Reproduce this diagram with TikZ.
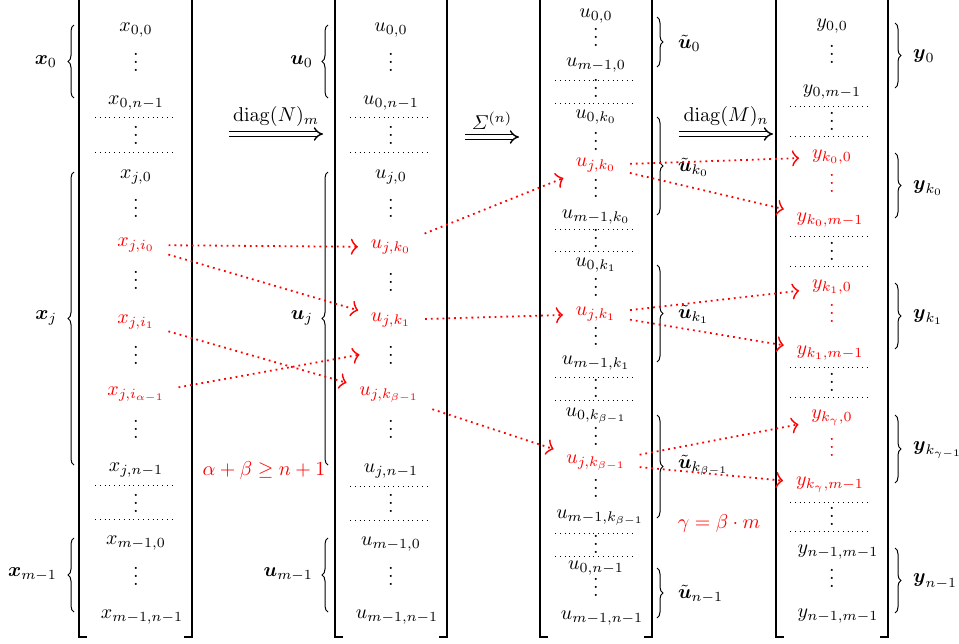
\documentclass[tikz,border=0pt]{standalone}
\usepackage{amsmath}
\usetikzlibrary{arrows.meta,decorations.pathreplacing}

\begin{document}
\begin{tikzpicture}[x=0.5pt,y=-0.5pt,
  vd/.style={yshift=3pt},
  sepline/.style={dotted,line width=0.4pt},
  bracket/.style={line width=1pt},
  brc/.style={decorate,decoration={brace,amplitude=3pt},line width=0.5pt},
  dblarr/.style={double,double distance=1.6pt,line width=0.7pt,-{Implies}},
  redarr/.style={red,dotted,line width=0.9pt,-{Classical TikZ Rightarrow[length=3.5pt,width=8pt]},shorten <=3.5pt,shorten >=3pt}]
\useasboundingbox (0,0) rectangle (959,643);
\clip (0,0) rectangle (959,643);

% brackets
\draw[bracket] (87,-10) -- (79,-10) -- (79,637) -- (87,637);
\draw[bracket] (184,-10) -- (192,-10) -- (192,637) -- (184,637);
\draw[bracket] (343,-10) -- (335,-10) -- (335,637) -- (343,637);
\draw[bracket] (439,-10) -- (447,-10) -- (447,637) -- (439,637);
\draw[bracket] (548,-10) -- (540,-10) -- (540,637) -- (548,637);
\draw[bracket] (644,-10) -- (652,-10) -- (652,637) -- (644,637);
\draw[bracket] (784,-10) -- (776,-10) -- (776,637) -- (784,637);
\draw[bracket] (880,-10) -- (888,-10) -- (888,637) -- (880,637);

% column x
\node(x00)  at (136,30)            {$x_{0,0}$};
\node(xd1)  at (136,62)[vd]        {$\vdots$};
\node(x0n)  at (136,103)           {$x_{0,n-1}$};
\node(xd2)  at (136,135)[vd]       {$\vdots$};
\node(xj0)  at (136,177)           {$x_{j,0}$};
\node(xd3)  at (136,208)[vd]       {$\vdots$};
\node(xji0) at (136,245)[red]      {$x_{j,i_0}$};
\node(xd4)  at (136,280)[vd]       {$\vdots$};
\node(xji1) at (136,322)[red]      {$x_{j,i_1}$};
\node(xd5)  at (136,355)[vd]       {$\vdots$};
\node(xjia) at (136,395)[red]      {$x_{j,i_{\alpha-1}}$};
\node(xd6)  at (136,429)[vd]       {$\vdots$};
\node(xjn)  at (136,470)           {$x_{j,n-1}$};
\node(xd7)  at (136,503)[vd]       {$\vdots$};
\node(xm0)  at (136,543)           {$x_{m-1,0}$};
\node(xd8)  at (136,576)[vd]       {$\vdots$};
\node(xmn)  at (142,617)           {$x_{m-1,n-1}$};
\draw[sepline] (95,117) -- (174,117);
\draw[sepline] (95,152) -- (174,152);
\draw[sepline] (95,485) -- (174,485);
\draw[sepline] (95,519) -- (174,519);

% column u
\node(u00)  at (391,30)            {$u_{0,0}$};
\node(ud1)  at (391,62)[vd]        {$\vdots$};
\node(u0n)  at (391,103)           {$u_{0,n-1}$};
\node(ud2)  at (391,135)[vd]       {$\vdots$};
\node(uj0)  at (391,177)           {$u_{j,0}$};
\node(ud3)  at (391,208)[vd]       {$\vdots$};
\node(ujk0) at (391,247)[red]      {$u_{j,k_0}$};
\node(ud4)  at (391,282)[vd]       {$\vdots$};
\node(ujk1) at (391,320)[red]      {$u_{j,k_1}$};
\node(ud5)  at (391,355)[vd]       {$\vdots$};
\node(ujkb) at (389,395)[red]      {$u_{j,k_{\beta-1}}$};
\node(ud6)  at (391,429)[vd]       {$\vdots$};
\node(ujn)  at (391,471)           {$u_{j,n-1}$};
\node(ud7)  at (391,503)[vd]       {$\vdots$};
\node(um0)  at (391,544)           {$u_{m-1,0}$};
\node(ud8)  at (391,576)[vd]       {$\vdots$};
\node(umn)  at (397,617)           {$u_{m-1,n-1}$};
\draw[sepline] (350,117) -- (429,117);
\draw[sepline] (350,152) -- (429,152);
\draw[sepline] (350,486) -- (429,486);
\draw[sepline] (350,520) -- (429,520);

% column u tilde
\node(v00)  at (596,16)            {$u_{0,0}$};
\node(vd1)  at (596,37)[vd]        {$\vdots$};
\node(vm0)  at (596,65)            {$u_{m-1,0}$};
\node(vd2)  at (596,88)[vd]        {$\vdots$};
\node(v0k0) at (596,117)           {$u_{0,k_0}$};
\node(vd3)  at (596,141)[vd]       {$\vdots$};
\node(vjk0) at (596,165)[red]      {$u_{j,k_0}$};
\node(vd4)  at (596,188)[vd]       {$\vdots$};
\node(vmk0) at (596,217)           {$u_{m-1,k_0}$};
\node(vd5)  at (596,238)[vd]       {$\vdots$};
\node(v0k1) at (596,265)           {$u_{0,k_1}$};
\node(vd6)  at (596,287)[vd]       {$\vdots$};
\node(vjk1) at (596,314)[red]      {$u_{j,k_1}$};
\node(vd7)  at (596,336)[vd]       {$\vdots$};
\node(vmk1) at (596,363)           {$u_{m-1,k_1}$};
\node(vd8)  at (596,388)[vd]       {$\vdots$};
\node(v0kb) at (596,416)           {$u_{0,k_{\beta-1}}$};
\node(vd9)  at (596,436)[vd]       {$\vdots$};
\node(vjkb) at (596,463)[red]      {$u_{j,k_{\beta-1}}$};
\node(vd10) at (596,488)[vd]       {$\vdots$};
\node(vmkb) at (600,518)           {$u_{m-1,k_{\beta-1}}$};
\node(vd11) at (596,544)[vd]       {$\vdots$};
\node(v0n)  at (596,568)           {$u_{0,n-1}$};
\node(vd12) at (596,587)[vd]       {$\vdots$};
\node(vmn)  at (602,618)           {$u_{m-1,n-1}$};
\draw[sepline] (555,80) -- (634,80);
\draw[sepline] (555,103) -- (634,103);
\draw[sepline] (555,229) -- (634,229);
\draw[sepline] (555,251) -- (634,251);
\draw[sepline] (555,377) -- (634,377);
\draw[sepline] (555,400) -- (634,400);
\draw[sepline] (555,533) -- (634,533);
\draw[sepline] (555,556) -- (634,556);

% column y
\node(y00)  at (832,26)            {$y_{0,0}$};
\node(yd1)  at (832,54)[vd]        {$\vdots$};
\node(y0m)  at (832,92)            {$y_{0,m-1}$};
\node(yd2)  at (832,121)[vd]       {$\vdots$};
\node(yk00) at (832,157)[red]      {$y_{k_0,0}$};
\node(yd3)  at (832,183)[vd,red]   {$\vdots$};
\node(yk0m) at (830,220)[red]      {$y_{k_0,m-1}$};
\node(yd4)  at (832,251)[vd]       {$\vdots$};
\node(yk10) at (832,287)[red]      {$y_{k_1,0}$};
\node(yd5)  at (832,313)[vd,red]   {$\vdots$};
\node(yk1m) at (830,353)[red]      {$y_{k_1,m-1}$};
\node(yd6)  at (832,382)[vd]       {$\vdots$};
\node(yg0)  at (832,418)[red]      {$y_{k_\gamma,0}$};
\node(yd7)  at (832,447)[vd,red]   {$\vdots$};
\node(ygm)  at (830,485)[red]      {$y_{k_\gamma,m-1}$};
\node(yd8)  at (832,516)[vd]       {$\vdots$};
\node(yn1)  at (838,552)           {$y_{n-1,m-1}$};
\node(yd9)  at (832,578)[vd]       {$\vdots$};
\node(yn2)  at (838,616)           {$y_{n-1,m-1}$};
\draw[sepline] (790,106) -- (870,106);
\draw[sepline] (790,136) -- (870,136);
\draw[sepline] (790,236) -- (870,236);
\draw[sepline] (790,266) -- (870,266);
\draw[sepline] (790,367) -- (870,367);
\draw[sepline] (790,397) -- (870,397);
\draw[sepline] (790,502) -- (870,502);
\draw[sepline] (790,531) -- (870,531);

% braces
\draw[brc] (74,98) -- (74,25);
\draw[brc] (74,465) -- (74,172);
\draw[brc] (74,612) -- (74,538);
\draw[brc] (328,98) -- (328,25);
\draw[brc] (328,465) -- (328,172);
\draw[brc] (328,612) -- (328,538);
\draw[brc] (657,17) -- (657,67);
\draw[brc] (657,117) -- (657,215);
\draw[brc] (657,265) -- (657,362);
\draw[brc] (657,415) -- (657,518);
\draw[brc] (657,568) -- (657,618);
\draw[brc] (895,23) -- (895,88);
\draw[brc] (895,153) -- (895,218);
\draw[brc] (895,283) -- (895,349);
\draw[brc] (895,415) -- (895,483);
\draw[brc] (895,548) -- (895,613);

\node(bx0)  at (64,62)[anchor=east]    {$\boldsymbol{x}_0$};
\node(bxj)  at (64,318)[anchor=east]   {$\boldsymbol{x}_j$};
\node(bxm)  at (64,574)[anchor=east]   {$\boldsymbol{x}_{m-1}$};
\node(bu0)  at (320,62)[anchor=east]   {$\boldsymbol{u}_0$};
\node(buj)  at (320,318)[anchor=east]  {$\boldsymbol{u}_j$};
\node(bum)  at (320,574)[anchor=east]  {$\boldsymbol{u}_{m-1}$};
\node(bv0)  at (671,43)[anchor=west]   {$\tilde{\boldsymbol{u}}_0$};
\node(bvk0) at (671,167)[anchor=west]  {$\tilde{\boldsymbol{u}}_{k_0}$};
\node(bvk1) at (671,314)[anchor=west]  {$\tilde{\boldsymbol{u}}_{k_1}$};
\node(bvkb) at (671,465)[anchor=west]  {$\tilde{\boldsymbol{u}}_{k_{\beta-1}}$};
\node(bvn)  at (671,594)[anchor=west]  {$\tilde{\boldsymbol{u}}_{n-1}$};
\node(by0)  at (906,56)[anchor=west]   {$\boldsymbol{y}_0$};
\node(byk0) at (906,188)[anchor=west]  {$\boldsymbol{y}_{k_0}$};
\node(byk1) at (906,317)[anchor=west]  {$\boldsymbol{y}_{k_1}$};
\node(bykg) at (906,450)[anchor=west]  {$\boldsymbol{y}_{k_{\gamma-1}}$};
\node(byn)  at (906,581)[anchor=west]  {$\boldsymbol{y}_{n-1}$};

% maps
\coordinate(na) at (229,134);
\coordinate(nb) at (323,134);
\coordinate(sa) at (465,137);
\coordinate(sb) at (519,137);
\coordinate(ma) at (679,134);
\coordinate(mb) at (773,134);
\draw[dblarr] (na) -- (nb) node[midway,above](ln) {$\operatorname{diag}(N)_m$};
\draw[dblarr] (sa) -- (sb) node[midway,above](ls) {$\varSigma^{(n)}$};
\draw[dblarr] (ma) -- (mb) node[midway,above](lm) {$\operatorname{diag}(M)_n$};

\node(cab) at (264,470)[red] {$\alpha+\beta\geq n+1$};
\node(cgb) at (719,523)[red] {$\gamma=\beta\cdot m$};

\path [redarr]
  (xji0)   edge                        (ujk0)
  (xji0)   edge                        (ujk1)
  (xji1)   edge                        (ujkb)
  (xjia)   edge [shorten >=11pt]       (ud5)
  (ujk0)   edge                        (vjk0)
  (ujk1)   edge                        (vjk1)
  (ujkb)   edge                        (vjkb)
  (vjk0)   edge                        (yk00)
  (vjk0)   edge                        (yk0m)
  (vjk1)   edge                        (yk10)
  (vjk1)   edge                        (yk1m)
  (vjkb)   edge                        (yg0)
  (vjkb)   edge                        (ygm);

\end{tikzpicture}
\end{document}
